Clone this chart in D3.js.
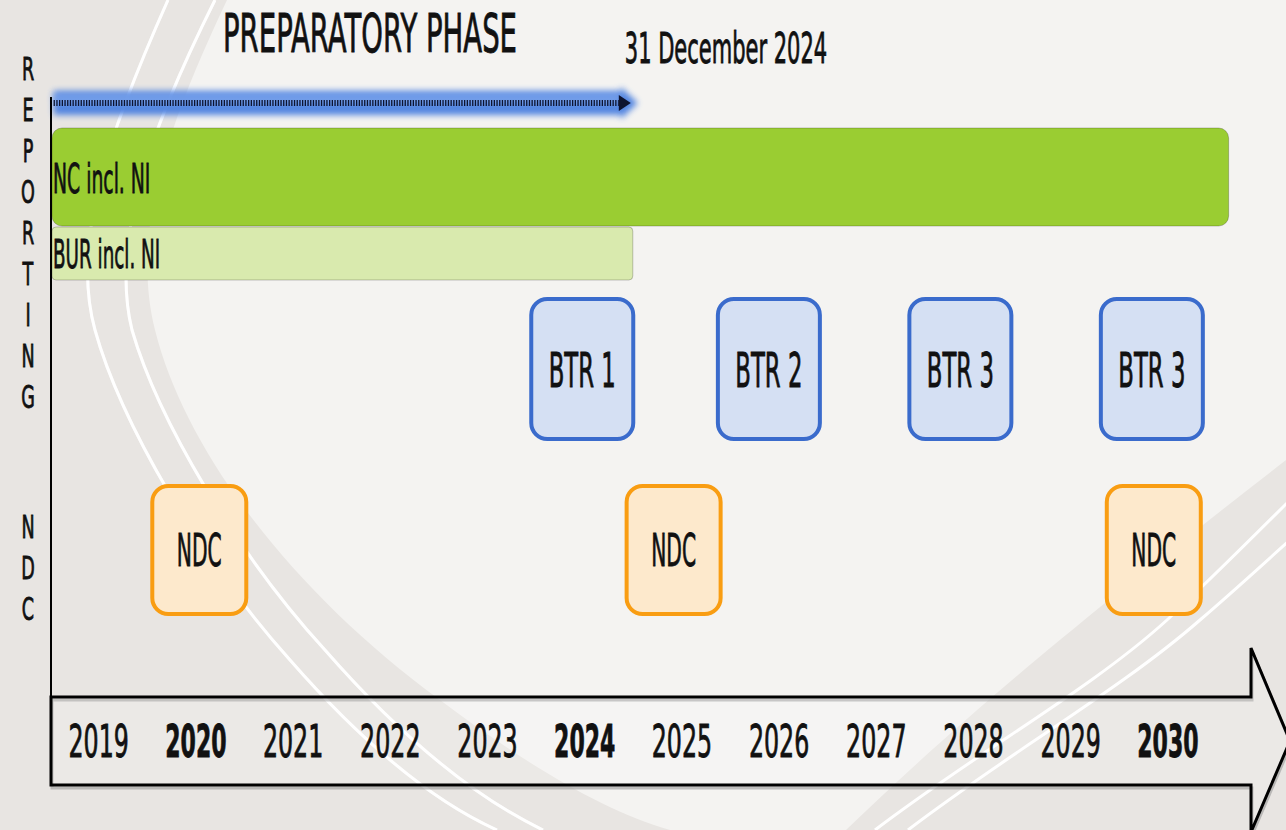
<!DOCTYPE html>
<html>
<head>
<meta charset="utf-8">
<script src="https://cdn.jsdelivr.net/npm/d3@7"></script>
<style>
  body { margin: 0; background: #e8e5e2; }
  svg { display: block; font-family: "DejaVu Sans", Verdana, sans-serif; }
</style>
</head>
<body>
<div id="timeline"></div>
<script>
//data
const years = [2019, 2020, 2021, 2022, 2023, 2024, 2025, 2026, 2027, 2028, 2029, 2030];
const boldYears = [2020, 2024, 2030];

const barLabels = ["NC incl. NI", "BUR incl. NI"];
const barFrom = [2019, 2019];
const barTo = [2031.13, 2025];

const btrLabels = ["BTR 1", "BTR 2", "BTR 3", "BTR 3"];
const btrYear = [2024.48, 2026.4, 2028.37, 2030.34];

const ndcLabels = ["NDC", "NDC", "NDC"];
const ndcYear = [2020.54, 2025.42, 2030.36];

const phaseTitle = "PREPARATORY PHASE";
const phaseEnd = 2025;
const phaseEndLabel = "31 December 2024";
const sideLabels = ["REPORTING", "NDC"];

//==========================================================
let width_svg = 1286;
let height_svg = 830;
let axis_x = 51;

let svg = d3.select("#timeline")
            .append("svg")
            .attr("width", width_svg)
            .attr("height", height_svg);

let defs = svg.append("defs");
defs.append("filter").attr("id", "glow")
    .attr("filterUnits", "userSpaceOnUse")
    .attr("x", 0).attr("y", 60).attr("width", 700).attr("height", 90)
    .append("feGaussianBlur").attr("stdDeviation", 3);

//time scale, one unit per year
let x = d3.scaleLinear().domain([2019, 2031]).range([49.6, 1216]);

//squeezed text (the original lettering is very narrow)
function squeezed(g, txt, tx, ty, size, f, anchor, weight) {
    return g.append("text")
            .attr("transform", `translate(${tx},${ty}) scale(${f},1)`)
            .attr("text-anchor", anchor)
            .attr("fill", "#111")
            .attr("stroke", "#111")
            .attr("stroke-width", 0.9)
            .style("font-size", size + "px")
            .style("font-weight", weight || "normal")
            .text(txt);
}

//==========================================================
//background swooshes
let bg = svg.append("g");
bg.append("rect").attr("width", width_svg).attr("height", height_svg).attr("fill", "#e8e5e2");
bg.append("path")
  .attr("d", "M227,0 C170,120 130,230 155,330 C185,450 290,590 440,700 C520,760 600,810 670,830 L846,830 C960,720 1080,620 1286,460 L1286,0 Z")
  .attr("fill", "#f4f3f1");
let swoosh = [
    "M168,0 C110,130 70,240 95,330 C120,420 200,560 290,660 C360,740 430,800 497,830",
    "M215,0 C150,130 110,240 132,330 C158,420 238,555 325,650 C395,730 470,795 543,830",
    "M875,830 C980,750 1090,690 1167,620 C1210,580 1250,540 1290,500",
    "M908,830 C1010,752 1120,690 1200,620 C1235,590 1262,565 1290,540"
];

//==========================================================
//preparatory phase arrow (dotted, blue glow) - under the swoosh lines
let phase_y = 103;
let phase = svg.append("g");
let p0 = x(2019) + 4, p1 = x(phaseEnd);
phase.append("path")
     .attr("d", `M${p0},${phase_y - 12} L${p1 - 12},${phase_y - 12} L${p1 - 12},${phase_y - 16} L${p1 + 5},${phase_y} L${p1 - 12},${phase_y + 16} L${p1 - 12},${phase_y + 12} L${p0},${phase_y + 12} Z`)
     .attr("fill", "#4a7fe0")
     .attr("opacity", 0.95)
     .attr("filter", "url(#glow)");
phase.append("rect")
     .attr("x", p0).attr("y", phase_y - 9)
     .attr("width", p1 - p0 - 12).attr("height", 10)
     .attr("fill", "#8cb0f0")
     .attr("opacity", 0.6)
     .attr("filter", "url(#glow)");

bg.selectAll("path.swoosh").data(swoosh).enter().append("path")
  .attr("class", "swoosh")
  .attr("d", d => d)
  .attr("fill", "none")
  .attr("stroke", "#ffffff")
  .attr("stroke-width", 3);
svg.selectAll("path.swoosh2").data(swoosh.slice(0, 2)).enter().append("path")
  .attr("class", "swoosh2")
  .attr("d", d => d)
  .attr("fill", "none")
  .attr("stroke", "#ffffff")
  .attr("stroke-width", 3)
  .attr("opacity", 0.4);

phase.raise();
phase.append("line")
     .attr("x1", p0).attr("x2", p1 - 14)
     .attr("y1", phase_y).attr("y2", phase_y)
     .attr("stroke", "#0d1430").attr("stroke-width", 6)
     .attr("stroke-dasharray", "1.3,1.4");
phase.append("path")
     .attr("d", `M${p1 - 14},${phase_y - 8} L${p1 - 2},${phase_y} L${p1 - 14},${phase_y + 8} Z`)
     .attr("fill", "#0d1430");

//==========================================================
//titles
squeezed(svg, phaseTitle, 370, 52, 54, 0.51, "middle");
squeezed(svg, phaseEndLabel, x(phaseEnd) - 8, 63, 42, 0.5, "start");

//side labels, one letter per line
let side = svg.append("g");
sideLabels[0].split("").forEach((ch, i) => squeezed(side, ch, 28, 80 + i * 41, 32, 0.55, "middle"));
sideLabels[1].split("").forEach((ch, i) => squeezed(side, ch, 28, 538 + i * 41, 32, 0.55, "middle"));

//vertical axis line
svg.append("line")
   .attr("x1", axis_x).attr("x2", axis_x)
   .attr("y1", 97).attr("y2", 785)
   .attr("stroke", "#000").attr("stroke-width", 2);

//==========================================================
//reporting bars
let barTop = [128, 227];
let barHeight = [98, 53];
let barFill = ["#9acd32", "#d9eaae"];
let barSize = [40, 39];
let barBase = [193, 268];
let bars = svg.append("g");
bars.selectAll("rect")
    .data(barLabels)
    .enter()
    .append("rect")
    .attr("x", (d, i) => Math.max(x(barFrom[i]), axis_x + 1))
    .attr("y", (d, i) => barTop[i])
    .attr("width", (d, i) => x(barTo[i]) - Math.max(x(barFrom[i]), axis_x + 1))
    .attr("height", (d, i) => barHeight[i])
    .attr("rx", (d, i) => i === 0 ? 10 : 4)
    .attr("fill", (d, i) => barFill[i])
    .attr("stroke", "rgba(0,0,0,0.22)")
    .attr("stroke-width", 1);
barLabels.forEach((d, i) => squeezed(bars, d, axis_x + 2, barBase[i], barSize[i], 0.47, "start"));

//==========================================================
//BTR boxes
let btr = svg.append("g");
let btr_w = 102, btr_top = 299, btr_h = 140;
btr.selectAll("rect")
   .data(btrLabels)
   .enter()
   .append("rect")
   .attr("x", (d, i) => x(btrYear[i]) - btr_w / 2)
   .attr("y", btr_top)
   .attr("width", btr_w)
   .attr("height", btr_h)
   .attr("rx", 16)
   .attr("fill", "#d5e0f3")
   .attr("stroke", "#3a6bcc")
   .attr("stroke-width", 4);
btrLabels.forEach((d, i) => squeezed(btr, d, x(btrYear[i]), btr_top + btr_h / 2 + 18, 48, 0.475, "middle"));

//NDC boxes
let ndc = svg.append("g");
let ndc_w = 94, ndc_top = 486, ndc_h = 128;
ndc.selectAll("rect")
   .data(ndcLabels)
   .enter()
   .append("rect")
   .attr("x", (d, i) => x(ndcYear[i]) - ndc_w / 2)
   .attr("y", ndc_top)
   .attr("width", ndc_w)
   .attr("height", ndc_h)
   .attr("rx", 16)
   .attr("fill", "#fde9cc")
   .attr("stroke", "#f99d12")
   .attr("stroke-width", 4);
ndcLabels.forEach((d, i) => squeezed(ndc, d, x(ndcYear[i]), ndc_top + ndc_h / 2 + 16, 44, 0.46, "middle"));

//==========================================================
//timeline arrow
let t_top = 697, t_bot = 785, t_head = 1251, t_tip = 1290;
let t_mid = (t_top + t_bot) / 2;
let arrow_d = `M${axis_x},${t_top} L${t_head},${t_top} L${t_head},${t_top - 49} L${t_tip},${t_mid} L${t_head},${t_bot + 47} L${t_head},${t_bot} L${axis_x},${t_bot} Z`;
svg.append("path")
   .attr("d", arrow_d)
   .attr("transform", "translate(1,3)")
   .attr("fill", "none")
   .attr("stroke", "#9a9a9a")
   .attr("stroke-width", 3)
   .attr("opacity", 0.6);
svg.append("path")
   .attr("d", arrow_d)
   .attr("fill", "rgba(255,255,255,0.15)")
   .attr("stroke", "#000")
   .attr("stroke-width", 3);

//year labels through an axis
let year_axis = d3.axisBottom(x)
                  .tickValues(years.map(y => y + 0.5))
                  .tickFormat(d => Math.floor(d))
                  .tickSize(0);
let axis_g = svg.append("g")
                .attr("transform", `translate(0, 757)`)
                .call(year_axis);
axis_g.select(".domain").remove();
axis_g.attr("font-family", null).attr("font-size", null);
axis_g.selectAll("text")
      .attr("y", 0).attr("dy", 0)
      .attr("fill", "#111")
      .attr("stroke", "#111")
      .attr("stroke-width", 0.9)
      .attr("transform", d => boldYears.includes(Math.floor(d)) ? "scale(0.5,1)" : "scale(0.54,1)")
      .style("font-size", "44px")
      .style("font-weight", d => boldYears.includes(Math.floor(d)) ? "bold" : "normal");
</script>
</body>
</html>
